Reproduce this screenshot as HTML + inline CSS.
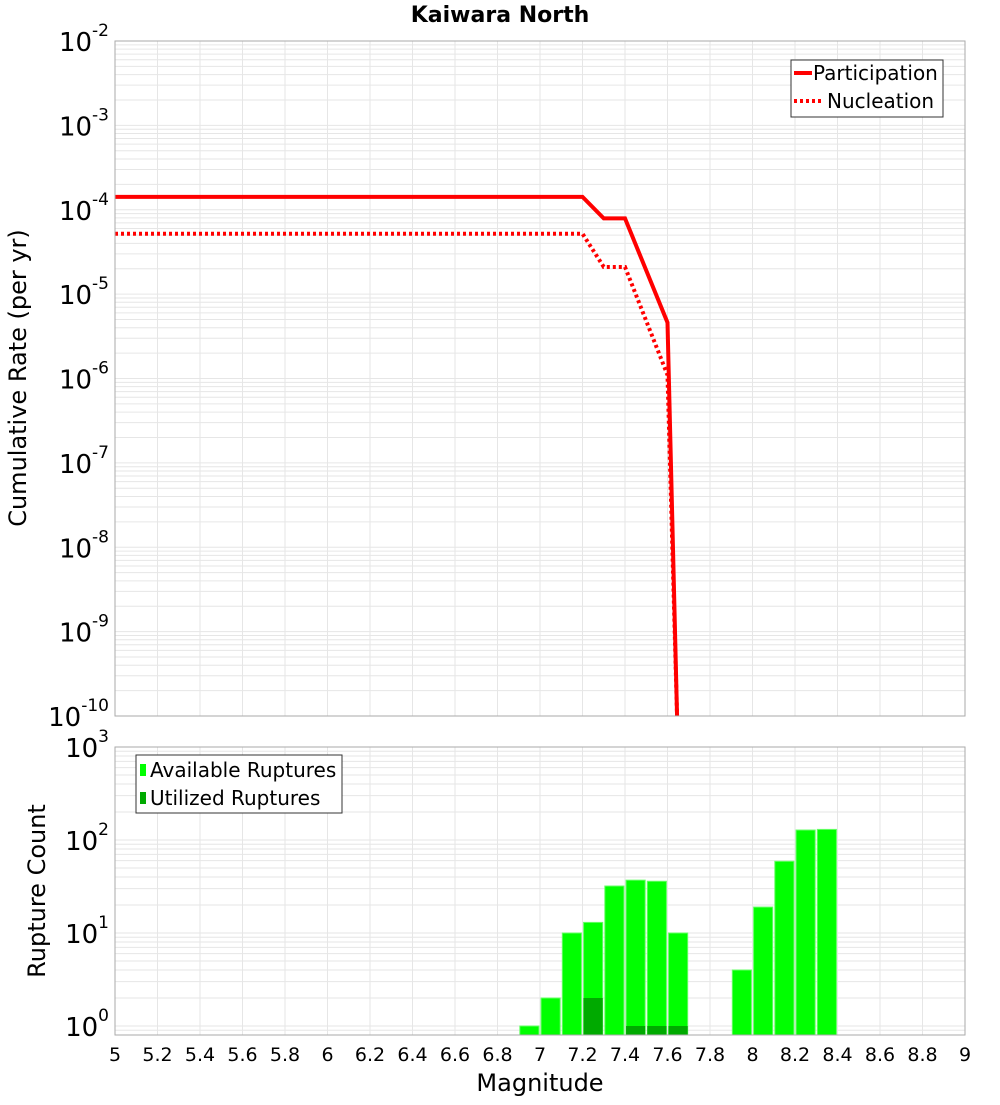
<!DOCTYPE html>
<html><head><meta charset="utf-8"><style>
body{margin:0;background:#fff;width:1000px;height:1100px;overflow:hidden}
svg{font-family:"DejaVu Sans","Liberation Sans",sans-serif}
</style></head><body>
<svg id="chart" width="1000" height="1100" xmlns="http://www.w3.org/2000/svg">
<text x="500" y="22" text-anchor="middle" font-size="22" font-weight="bold">Kaiwara North</text>
<g id="topg"></g><g id="botg"></g>
</svg>
<script>
const partMags=[5,7.2,7.3,7.4,7.6,7.645];
const partRates=[1.42e-4,1.42e-4,7.9e-5,7.9e-5,4.6e-6,1e-10];
const nuclMags=[5,7.2,7.3,7.4,7.6,7.645];
const nuclRates=[5.2e-5,5.2e-5,2.1e-5,2.1e-5,1.1e-6,1e-10];
const binMags=[6.95,7.05,7.15,7.25,7.35,7.45,7.55,7.65,7.95,8.05,8.15,8.25,8.35];
const availCounts=[1,2,10,13,32,37,36,10,4,19,59,128,130];
const usedCounts=[0,0,0,2,0,1,1,1,0,0,0,0,0];
const xTicks=[5,5.2,5.4,5.6,5.8,6,6.2,6.4,6.6,6.8,7,7.2,7.4,7.6,7.8,8,8.2,8.4,8.6,8.8,9];

const NS="http://www.w3.org/2000/svg";
const X0=115,X1=965;
const xs=m=>X0+(m-5)/4*(X1-X0);
const yTop=v=>41+(-2-Math.log10(v))*84.375;
const yBot=v=>1026-Math.log10(v)*93;
function mk(p,t,a){const e=document.createElementNS(NS,t);for(const k in a)e.setAttribute(k,a[k]);p.appendChild(e);return e;}
const topG=document.getElementById('topg'),botG=document.getElementById('botg');

function grid(g,yt,y0,y1,d0,d1){
  for(let d=d0;d<d1;d++)for(let k=1;k<10;k++){const y=yt(k*Math.pow(10,d));if(y<y0||y>y1)continue;
    const l=mk(g,'line',{x1:X0,x2:X1,y1:y,y2:y,stroke:'#e6e6e6','stroke-width':1});
    
    }
  xTicks.forEach(m=>{const l=mk(g,'line',{x1:xs(m),x2:xs(m),y1:y0,y2:y1,stroke:'#e6e6e6','stroke-width':1});
    
    });
}
function ylabels(g,yt,d0,d1,name){
  for(let d=d0;d<=d1;d++){const y=yt(Math.pow(10,d));
    const t=mk(g,'text',{x:X0-6,y:y+10,'text-anchor':'end','font-size':26});
    
    
    t.innerHTML='10<tspan dy="-15" font-size="17">'+d+'</tspan>';}
}
grid(topG,yTop,41,716,-10,-2);
ylabels(topG,yTop,-10,-2,'y-tick-label-top');
const clip=mk(topG,'clipPath',{id:'cp'});mk(clip,'rect',{x:X0,y:41,width:X1-X0,height:675});
const lg=mk(topG,'g',{'clip-path':'url(#cp)'});
function line2(mags,rates,dash,name){
  const pts=mags.map((m,i)=>xs(m)+','+yTop(rates[i])).join(' ');
  const p=mk(lg,'polyline',{points:pts,fill:'none',stroke:'#ff0000','stroke-width':4});
  if(dash)p.setAttribute('stroke-dasharray','3,3');
  
  
}
line2(nuclMags,nuclRates,true,'nucleation-line');
line2(partMags,partRates,false,'participation-line');
const fr1=mk(topG,'rect',{x:X0,y:41,width:X1-X0,height:675,fill:'none',stroke:'#aaa'});

const yt1=mk(topG,'text',{x:26,y:378,transform:'rotate(-90 26 378)','text-anchor':'middle','font-size':24});
yt1.textContent='Cumulative Rate (per yr)';

const lgd=mk(topG,'g',{});
mk(lgd,'rect',{x:791,y:60,width:152,height:57,fill:'#fff',stroke:'#333'});
mk(lgd,'line',{x1:794,x2:812,y1:73,y2:73,stroke:'#f00','stroke-width':4});
mk(lgd,'line',{x1:794,x2:822,y1:101,y2:101,stroke:'#f00','stroke-width':4,'stroke-dasharray':'3,3'});
let t=mk(lgd,'text',{x:813,y:80,'font-size':20});t.textContent='Participation';

t=mk(lgd,'text',{x:827,y:108,'font-size':20});t.textContent='Nucleation';


grid(botG,yBot,747,1035,-1,3);
ylabels(botG,yBot,0,3,'y-tick-label-bottom');
const bw=0.09;
binMags.forEach((m,i)=>{
  const x=xs(m-bw/2),w=xs(m+bw/2)-x;
  const y=yBot(availCounts[i]);
  const r=mk(botG,'rect',{x:x,y:y,width:w,height:1035-y,fill:'#00ff00',stroke:'#66ff66','stroke-width':1});
  
  
  if(usedCounts[i]>0){const yu=yBot(usedCounts[i]);
    const u=mk(botG,'rect',{x:x,y:yu,width:w,height:1035-yu,fill:'#00aa00'});
    
    }
});
const fr2=mk(botG,'rect',{x:X0,y:747,width:X1-X0,height:288,fill:'none',stroke:'#aaa'});

xTicks.forEach(m=>{const t=mk(botG,'text',{x:xs(m),y:1061,'text-anchor':'middle','font-size':19});
  t.textContent=String(m);
  
  });
t=mk(botG,'text',{x:540,y:1091,'text-anchor':'middle','font-size':24});t.textContent='Magnitude';

t=mk(botG,'text',{x:45,y:891,transform:'rotate(-90 45 891)','text-anchor':'middle','font-size':24});t.textContent='Rupture Count';

const lb=mk(botG,'g',{});
mk(lb,'rect',{x:136,y:755,width:206,height:58,fill:'#fff',stroke:'#333'});
mk(lb,'rect',{x:140,y:764,width:6,height:12,fill:'#00ff00'});
mk(lb,'rect',{x:140,y:792,width:6,height:12,fill:'#00aa00'});
t=mk(lb,'text',{x:150,y:777,'font-size':20});t.textContent='Available Ruptures';

t=mk(lb,'text',{x:150,y:805,'font-size':20});t.textContent='Utilized Ruptures';

</script>
</body></html>
